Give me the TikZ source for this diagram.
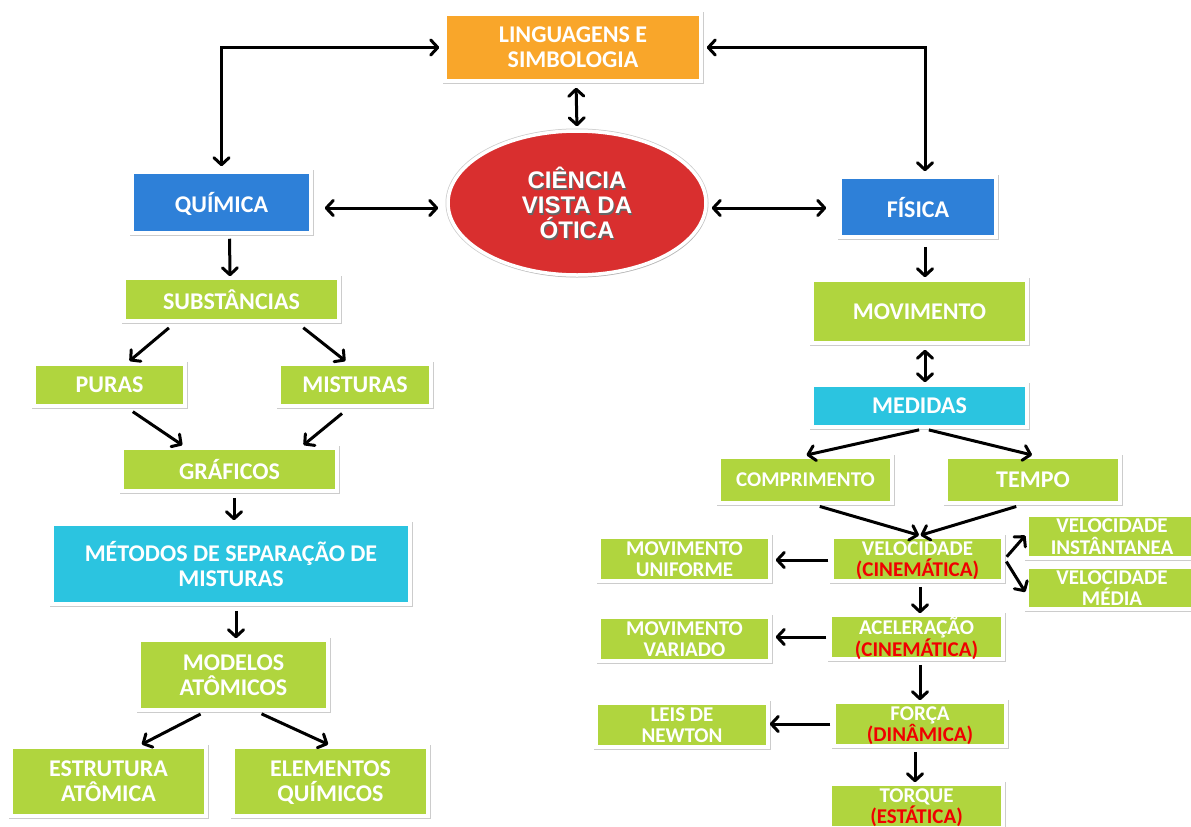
\documentclass[tikz,border=0pt]{standalone}
\usepackage{fontspec}
\setmainfont{Carlito}
\newfontfamily\ellfont{Liberation Sans}
\usetikzlibrary{arrows.meta,shapes.geometric,shadows}

\definecolor{cOrange}{HTML}{F9A62A}
\definecolor{cBlue}{HTML}{2E80D8}
\definecolor{cGreen}{HTML}{B0D53E}
\definecolor{cCyan}{HTML}{2BC4E0}
\definecolor{cEll}{HTML}{D92F2F}
\definecolor{cRed}{HTML}{F00000}

\newcommand\bigtxt{\fontsize{24}{25}\selectfont\bfseries}
\newcommand\smalltxt{\fontsize{21}{21.5}\selectfont\bfseries}
\newcommand\rtxt[1]{\textcolor{cRed}{#1}}
\newcommand\shtxt[1]{\makebox[0pt][l]{\hspace{1.2pt}\raisebox{-1.4pt}{\textcolor{black!60}{#1}}}#1}

\tikzset{
  boxframe/.style={draw=white, line width=3.5pt, inner sep=0pt, align=center,
    text=white, text depth=0pt, preaction={draw=black!20, line width=5pt},
    drop shadow={shadow xshift=1.2pt, shadow yshift=-2.4pt, opacity=0.3}},
  gbox/.style={boxframe, fill=cGreen},
  bbox/.style={boxframe, fill=cBlue},
  cbox/.style={boxframe, fill=cCyan},
  obox/.style={boxframe, fill=cOrange},
  tip/.tip={Straight Barb[length=7pt,width=15pt,round]},
  link/.style={line width=3pt, -tip},
  dlink/.style={line width=3pt, tip-tip},
}

\begin{document}
\begin{tikzpicture}[x=1pt, y=-1pt]
\fill[white] (0,0) rectangle (1191,827);
\useasboundingbox (0,0) rectangle (1191,827);

% ---- top and centre ----
\node[obox, minimum width=256pt, minimum height=67pt, font=\bigtxt] (ling) at (573,47.5) {LINGUAGENS E\\SIMBOLOGIA};
\node[boxframe, ellipse, fill=cEll, minimum width=258pt, minimum height=144pt,
      font=\ellfont\fontsize{24}{25}\selectfont\bfseries] (ell) at (577,203)
      {\shtxt{CIÊNCIA}\\\shtxt{VISTA DA}\\\shtxt{ÓTICA}};
\node[bbox, minimum width=179pt, minimum height=61pt, font=\bigtxt] (quim) at (221.5,202.5) {QUÍMICA};
\node[bbox, minimum width=156pt, minimum height=60pt, font=\bigtxt] (fis) at (918,207) {FÍSICA};

% ---- chemistry branch ----
\node[gbox, minimum width=215pt, minimum height=43pt, font=\bigtxt] (subs) at (231.5,299.5) {SUBSTÂNCIAS};
\node[gbox, minimum width=151pt, minimum height=42pt, font=\bigtxt] (puras) at (109.5,385) {PURAS};
\node[gbox, minimum width=152pt, minimum height=42pt, font=\bigtxt] (mist) at (355,385) {MISTURAS};
\node[gbox, minimum width=215pt, minimum height=43pt, font=\bigtxt] (graf) at (229.5,469.5) {GRÁFICOS};
\node[cbox, minimum width=358pt, minimum height=80pt, font=\bigtxt] (met) at (231,564) {MÉTODOS DE SEPARAÇÃO DE\\MISTURAS};
\node[gbox, minimum width=189pt, minimum height=70pt, font=\bigtxt] (mod) at (233.5,675) {MODELOS\\ATÔMICOS};
\node[gbox, minimum width=195pt, minimum height=69pt, font=\bigtxt] (estr) at (108.5,781.5) {ESTRUTURA\\ATÔMICA};
\node[gbox, minimum width=195pt, minimum height=69pt, font=\bigtxt] (elem) at (330.5,781.5) {ELEMENTOS\\QUÍMICOS};

% ---- physics branch ----
\node[gbox, minimum width=215pt, minimum height=63pt, font=\bigtxt] (mov) at (919.5,311.5) {MOVIMENTO};
\node[cbox, minimum width=215pt, minimum height=42pt, font=\bigtxt] (med) at (919.5,406) {MEDIDAS};
\node[gbox, minimum width=173pt, minimum height=46pt, font=\smalltxt] (comp) at (805.5,480) {COMPRIMENTO};
\node[gbox, minimum width=174pt, minimum height=46pt, font=\bigtxt] (tempo) at (1033,480) {TEMPO};
\node[gbox, minimum width=171pt, minimum height=44pt, font=\smalltxt] (vel) at (917.5,559) {VELOCIDADE\\\rtxt{(CINEMÁTICA)}};
\node[gbox, minimum width=170pt, minimum height=43pt, font=\smalltxt] (vinst) at (1112,536.5) {VELOCIDADE\\INSTÂNTANEA};
\node[gbox, minimum width=170pt, minimum height=42pt, font=\smalltxt] (vmed) at (1112,588) {VELOCIDADE\\MÉDIA};
\node[gbox, minimum width=171pt, minimum height=44pt, font=\smalltxt] (movu) at (684.5,559) {MOVIMENTO\\UNIFORME};
\node[gbox, minimum width=173pt, minimum height=44pt, font=\smalltxt] (acel) at (916.5,637) {ACELERAÇÃO\\\rtxt{(CINEMÁTICA)}};
\node[gbox, minimum width=171pt, minimum height=44pt, font=\smalltxt] (movv) at (684.5,639) {MOVIMENTO\\VARIADO};
\node[gbox, minimum width=172pt, minimum height=44pt, font=\smalltxt] (forca) at (920,724) {FORÇA\\\rtxt{(DINÂMICA)}};
\node[gbox, minimum width=172pt, minimum height=44pt, font=\smalltxt] (leis) at (682,725) {LEIS DE\\NEWTON};
\node[gbox, minimum width=173pt, minimum height=44pt, font=\smalltxt] (torq) at (916.5,806) {TORQUE\\\rtxt{(ESTÁTICA)}};

% ---- connectors: top ----
\draw[dlink, shorten <=4pt, shorten >=4pt] (ling.west) -| (quim.north);
\draw[dlink, shorten <=4pt, shorten >=4pt] (ling.east) -| ([xshift=7pt]fis.north);
\draw[dlink, shorten <=5pt, shorten >=3pt] ([xshift=3pt]ling.south) -- (ell.north);
\draw[dlink, shorten <=12pt, shorten >=8pt] ([yshift=-5.5pt]quim.east) -- ([yshift=-5pt]ell.west);
\draw[dlink, shorten <=4pt, shorten >=12pt] ([yshift=-5pt]ell.east) -- ([yshift=-1pt]fis.west);

% ---- connectors: chemistry ----
\draw[link, shorten <=4pt] ([xshift=8pt]quim.south) -- ([xshift=-1.5pt]subs.north);
\draw[link, shorten <=8pt, shorten >=2pt] ([xshift=-56.5pt]subs.south) -- ([xshift=18.5pt]puras.north);
\draw[link, shorten <=8pt, shorten >=2pt] ([xshift=65.5pt]subs.south) -- ([xshift=-8pt]mist.north);
\draw[link, shorten <=7pt, shorten >=2pt] ([xshift=17.5pt]puras.south) -- ([xshift=-45.5pt]graf.north);
\draw[link, shorten <=9pt, shorten >=2pt] ([xshift=-6pt]mist.south) -- ([xshift=72.5pt]graf.north);
\draw[link, shorten <=5pt, shorten >=2pt] ([xshift=4.5pt]graf.south) -- ([xshift=3pt]met.north);
\draw[link, shorten <=5pt] ([xshift=5pt]met.south) -- ([xshift=2.5pt]mod.north);
\draw[link, shorten <=5pt, shorten >=2pt] ([xshift=-28.5pt]mod.south) -- ([xshift=31.5pt]estr.north);
\draw[link, shorten <=5pt, shorten >=2pt] ([xshift=23.5pt]mod.south) -- ([xshift=-0.5pt]elem.north);

% ---- connectors: physics ----
\draw[link, shorten <=8pt, shorten >=1pt] ([xshift=7pt]fis.south) -- ([xshift=5.5pt]mov.north);
\draw[dlink, shorten <=5pt, shorten >=1pt] ([xshift=5.5pt]mov.south) -- ([xshift=5.5pt]med.north);
\draw[link, shorten <=5pt, shorten >=1pt] ([xshift=4.5pt]med.south) -- (comp.north);
\draw[link, shorten <=5pt, shorten >=1pt] ([xshift=4.5pt]med.south) -- (tempo.north);
\draw[link, shorten <=6pt] ([xshift=8.5pt]comp.south) -- ([xshift=1.5pt]vel.north);
\draw[link, shorten <=6pt] ([xshift=-11pt]tempo.south) -- ([xshift=3pt]vel.north);
\draw[link, shorten <=2pt, shorten >=4pt] ([yshift=-1pt]vel.west) -- ([yshift=-1pt]vel.west -| movu.east);
\draw[link, shorten <=3pt] (vel.east) -- ([yshift=1pt]vinst.west);
\draw[link, shorten <=3pt] (vel.east) -- ([yshift=-4pt]vmed.west);
\draw[link, shorten <=4pt] ([xshift=2.5pt]vel.south) -- ([xshift=3.5pt]acel.north);
\draw[link, shorten <=2pt, shorten >=4pt] (acel.west) -- (acel.west -| movv.east);
\draw[link, shorten <=4pt] ([xshift=3.5pt]acel.south) -- (forca.north);
\draw[link, shorten <=2pt] (forca.west) -- (forca.west -| leis.east);
\draw[link, shorten <=4pt] ([xshift=-5pt]forca.south) -- ([xshift=-1.5pt]torq.north);
\end{tikzpicture}
\end{document}
